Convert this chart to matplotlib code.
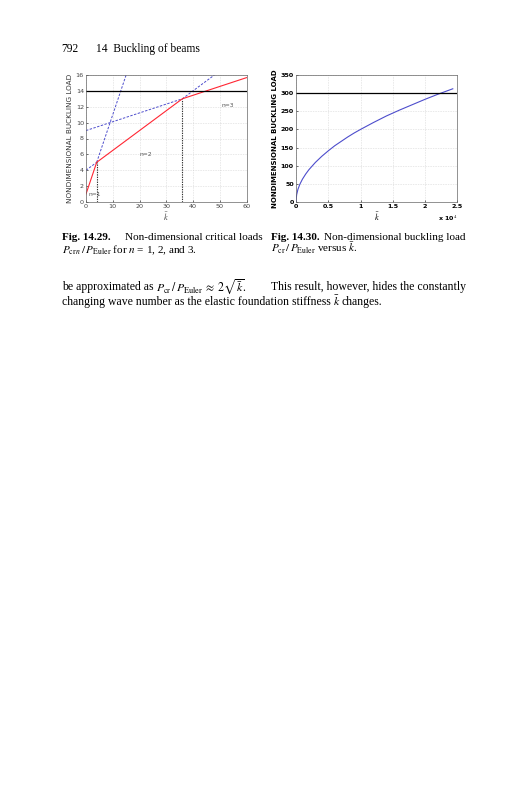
import matplotlib
matplotlib.use("Agg")
import matplotlib.pyplot as plt
import numpy as np

plt.rcParams['font.family'] = ['Liberation Serif', 'DejaVu Serif']
plt.rcParams['mathtext.fontset'] = 'stix'

# ---- data: left chart (P/P_Euler vs k for n=1,2,3) ----
red_k = [0, 4, 36, 60]
red_p = [1, 5, 13, 15.667]
n1_k = [4, 15]
n1_p = [5, 16]
n2a_k = [0, 4]
n2a_p = [4, 5]
n2b_k = [36, 48]
n2b_p = [13, 16]
n3_k = [0, 36]
n3_p = [9, 13]
transition_k = [4, 36]
transition_p = [5, 13]
hline_left = 14
left_xticks = [0, 10, 20, 30, 40, 50, 60]
left_yticks = [0, 2, 4, 6, 8, 10, 12, 14, 16]
mode_labels = ["n=1", "n=2", "n=3"]
mode_label_k = [1.0, 20.0, 50.5]
mode_label_p = [0.7, 5.8, 12.0]

# ---- data: right chart ----
k2 = [0, 100, 300, 600, 1000, 1500, 2000, 3000, 4000, 5000, 6000, 7000, 8000,
      9000, 10000, 12000, 14000, 16000, 18000, 20000, 22000, 24300]
p2 = [1, 20, 35, 49, 63, 77, 89, 109, 126, 141, 155, 167, 179,
      190, 200, 219, 237, 253, 268, 283, 297, 312]
hline_right = 300
right_xticks = [0, 5000, 10000, 15000, 20000, 25000]
right_xticklabels = ["0", "0.5", "1", "1.5", "2", "2.5"]
right_yticks = [0, 50, 100, 150, 200, 250, 300, 350]

W, H = 527, 800
fig = plt.figure(figsize=(W / 100, H / 100), dpi=100)

def fx(px):
    return px / W

def fy(py):
    return 1 - py / H

blue = (0.3, 0.3, 0.8)
red = (1.0, 0.15, 0.2)
tickfs = 4.6

# left axes
ax1 = fig.add_axes([fx(86), fy(202), fx(246.5) - fx(86), fy(75) - fy(202)])
ax1.plot(n1_k, n1_p, '--', color=blue, lw=0.7, dashes=(2.5, 1.5))
ax1.plot(n2a_k, n2a_p, '--', color=blue, lw=0.7, dashes=(2.5, 1.5))
ax1.plot(n2b_k, n2b_p, '--', color=blue, lw=0.7, dashes=(2.5, 1.5))
ax1.plot(n3_k, n3_p, '--', color=blue, lw=0.7, dashes=(2.5, 1.5))
ax1.plot(red_k, red_p, '-', color=red, lw=0.8)
ax1.axhline(hline_left, color='black', lw=0.9)
for kk, pp in zip(transition_k, transition_p):
    ax1.plot([kk, kk], [0, pp], color='#333333', lw=0.8, dashes=(1.2, 1.0))
for lab, kk, pp in zip(mode_labels, mode_label_k, mode_label_p):
    ax1.text(kk, pp, lab, fontsize=4.3, color='#555555', family='DejaVu Sans')
ax1.set_xlim(0, 60)
ax1.set_ylim(0, 16)
ax1.set_xticks(left_xticks)
ax1.set_yticks(left_yticks)
ax1.grid(True, color='#bbbbbb', lw=0.4, ls=(0, (1, 2)))
ax1.tick_params(labelsize=tickfs, length=1.5, width=0.4, direction='in', pad=1.5,
                labelcolor='#444444')
for lab in ax1.get_xticklabels() + ax1.get_yticklabels():
    lab.set_family('DejaVu Sans')
for s in ax1.spines.values():
    s.set_linewidth(0.5)
    s.set_color('#666666')
ax1.set_ylabel("NONDIMENSIONAL BUCKLING LOAD", fontsize=5.2, family='DejaVu Sans',
               color='#333333', labelpad=2)
ax1.set_xlabel(r"$\bar{k}$", fontsize=6, labelpad=1, color='#444444')

# right axes
ax2 = fig.add_axes([fx(296), fy(202), fx(457.3) - fx(296), fy(75) - fy(202)])
ax2.plot(k2, p2, '-', color=blue, lw=0.8)
ax2.axhline(hline_right, color='black', lw=0.9)
ax2.set_xlim(0, 25000)
ax2.set_ylim(0, 350)
ax2.set_xticks(right_xticks)
ax2.set_xticklabels(right_xticklabels)
ax2.set_yticks(right_yticks)
ax2.grid(True, color='#bbbbbb', lw=0.4, ls=(0, (1, 2)))
ax2.tick_params(labelsize=tickfs, length=1.5, width=0.4, direction='in', pad=1.5)
for lab in ax2.get_xticklabels() + ax2.get_yticklabels():
    lab.set_family('DejaVu Sans')
    lab.set_fontweight('bold')
for s in ax2.spines.values():
    s.set_linewidth(0.5)
    s.set_color('#666666')
ax2.set_ylabel("NONDIMENSIONAL BUCKLING LOAD", fontsize=5.0, family='DejaVu Sans',
               fontweight='bold', labelpad=2)
ax2.set_xlabel(r"$\bar{k}$", fontsize=6, labelpad=1)
ax2.text(1.0, -0.09, r"x 10$^{4}$", transform=ax2.transAxes, ha='right', va='top',
         fontsize=4.6, family='DejaVu Sans', fontweight='bold')

# page text
tfs = 8.3
fig.text(fx(61), fy(52), "792", fontsize=tfs, va='baseline')
fig.text(fx(96), fy(52), "14  Buckling of beams", fontsize=tfs, va='baseline')

cfs = 8.0
fig.text(fx(62), fy(240), "Fig. 14.29.", fontsize=cfs, fontweight='bold', va='baseline')
fig.text(fx(263), fy(240), "Non-dimensional critical loads", fontsize=cfs,
         va='baseline', ha='right')
fig.text(fx(62), fy(253), r"$P_{\mathrm{cr}\,n}\,/\,P_{\mathrm{Euler}}$ for $n$ = 1, 2, and 3.",
         fontsize=cfs, va='baseline')
fig.text(fx(271), fy(240), "Fig. 14.30.", fontsize=cfs, fontweight='bold', va='baseline')
fig.text(fx(466), fy(240), "Non-dimensional buckling load", fontsize=cfs,
         va='baseline', ha='right')
fig.text(fx(271), fy(253), r"$P_{\mathrm{cr}}\,/\,P_{\mathrm{Euler}}$ versus $\bar{k}$.",
         fontsize=cfs, va='baseline')

bfs = 8.5
fig.text(fx(62), fy(290.5), "be approximated as", fontsize=bfs, va='baseline')
fig.text(fx(156), fy(290.5), r"$P_{\mathrm{cr}}\,/\,P_{\mathrm{Euler}}\;\approx\;2\sqrt{\bar{k}}$.",
         fontsize=bfs, va='baseline')
fig.text(fx(466), fy(290.5), "This result, however, hides the constantly",
         fontsize=bfs, va='baseline', ha='right')
fig.text(fx(62), fy(305.5), "changing wave number as the elastic foundation stiffness",
         fontsize=bfs, va='baseline')
fig.text(fx(333), fy(305.5), r"$\bar{k}$", fontsize=bfs, va='baseline')
fig.text(fx(341), fy(305.5), "changes.", fontsize=bfs, va='baseline')

fig.savefig("out.png", dpi=100)
